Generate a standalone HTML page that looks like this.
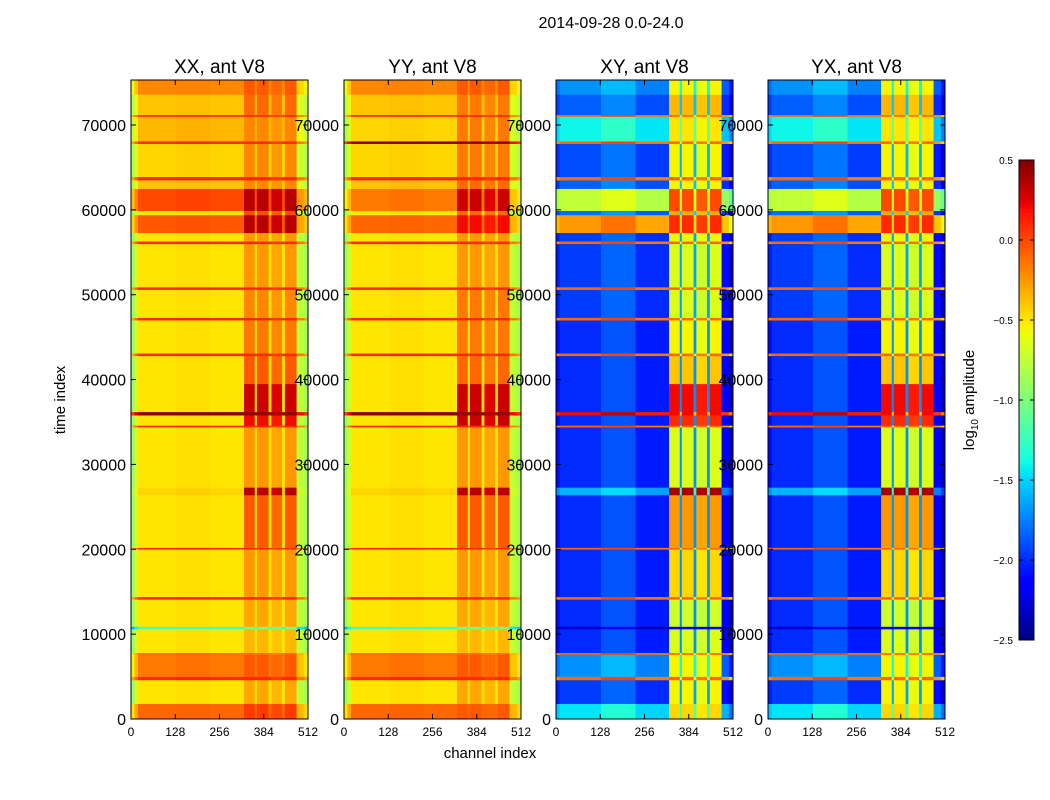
<!DOCTYPE html>
<html><head><meta charset="utf-8"><style>
body{margin:0;background:#fff;}
svg{display:block;font-family:"Liberation Sans",sans-serif;}
</style></head><body>
<svg id="fig" width="1050" height="800" xmlns="http://www.w3.org/2000/svg">
<rect width="1050" height="800" fill="#fff"/>
<text x="611" y="28" font-size="16" text-anchor="middle">2014-09-28 0.0-24.0</text>
<text x="490" y="758" font-size="15" text-anchor="middle">channel index</text>
<text transform="translate(65,400) rotate(-90)" font-size="15" text-anchor="middle">time index</text>
<g id="panels"></g>
<g id="cbar"></g>
<text transform="translate(974,400) rotate(-90)" font-size="15" text-anchor="middle">log<tspan font-size="10" dy="4">10</tspan><tspan dy="-4"> amplitude</tspan></text>
</svg>
<script>
// time segment boundaries (thousands of time index)
const tEdges=[0,1.8,4.6,5.0,7.6,7.8,10.6,10.9,14.1,14.4,20,20.2,26.4,27.3,34.4,34.6,35.8,36.2,39.5,42.8,43.1,47,47.3,50.6,50.9,56,56.3,57.3,59.4,59.9,62.5,63.5,63.9,67.8,68.1,71,71.2,73.6,75.3];
// background (off-band) log amplitude per segment
const xxBg=[-0.1,-0.5,0.1,-0.15,-0.1,-0.5,-1.2,-0.5,0.1,-0.5,0.1,-0.5,-0.45,-0.5,0.1,-0.5,0.45,-0.5,-0.5,0.1,-0.5,0.1,-0.5,0.1,-0.5,0.1,-0.5,-0.05,-0.5,0.0,-0.4,0.1,-0.45,0.1,-0.35,0.1,-0.4,-0.2];
const xxBand=[0.05,-0.3,0.1,-0.05,-0.1,-0.35,-1.0,-0.3,0.1,-0.25,0.1,-0.05,0.35,-0.25,0.1,0.2,0.45,0.3,-0.05,0.1,-0.15,0.1,-0.2,0.1,-0.25,0.1,-0.25,0.35,0.0,0.35,-0.2,0.1,-0.2,0.1,-0.2,0.1,-0.1,-0.05];
const yyBg=[-0.1,-0.5,0.1,-0.15,-0.1,-0.5,-1.2,-0.5,0.1,-0.5,0.1,-0.5,-0.45,-0.5,0.1,-0.5,0.45,-0.5,-0.5,0.1,-0.5,0.1,-0.5,0.1,-0.5,0.1,-0.5,-0.1,-0.5,-0.15,-0.4,0.1,-0.45,0.45,-0.45,0.1,-0.4,-0.2];
const yyBand=[-0.05,-0.3,0.1,-0.05,-0.1,-0.35,-1.0,-0.3,0.1,-0.25,0.1,-0.05,0.35,-0.25,0.1,0.3,0.45,0.3,-0.1,0.1,-0.15,0.1,-0.15,0.1,-0.25,0.1,-0.25,0.2,-0.1,0.3,-0.1,0.1,-0.15,0.45,-0.15,0.1,-0.15,-0.05];
const xyBg=[-1.45,-1.95,-0.1,-1.7,-0.1,-2.0,-2.3,-2.0,-0.1,-2.0,-0.1,-2.0,-1.6,-2.0,-0.1,-2.0,0.2,-2.0,-2.0,-0.1,-2.0,-0.1,-1.95,-0.1,-1.95,-0.1,-1.95,-0.25,-1.8,-0.75,-1.85,-0.1,-1.9,-0.1,-1.4,-0.1,-1.85,-1.7];
const xyBand=[-0.45,-0.55,-0.1,-0.55,-0.1,-0.65,-2.2,-0.7,-0.1,-0.45,-0.1,-0.25,0.4,-0.65,-0.1,0.1,0.2,0.2,-0.4,-0.1,-0.55,-0.1,-0.65,-0.1,-0.65,-0.1,-0.55,0.1,-0.3,0.0,-0.55,-0.1,-0.55,-0.1,-0.5,-0.1,-0.35,-0.55];
const yxBg=xyBg.slice();
const yxBand=xyBand.slice();
// channel column edges and type (0=background,1=band,2=gap)
const chEdges=[0,10,20,130,230,327,358,364,398,406,437,445,479,500,512];
const chType=[0,0,0,0,0,1,2,1,2,1,2,1,0,0];
const xxOff=[-0.4,-0.2,0,0.02,0,0,0,0,0,-0.05,0,0,-0.25,-0.35];
const xyOff=[-0.1,0,0,0.12,-0.05,0,0,0,0,-0.05,0,0,-0.15,-0.35];
const panelNames=["XX, ant V8","YY, ant V8","XY, ant V8","YX, ant V8"];
const yTicks=[0,10000,20000,30000,40000,50000,60000,70000];
const xTicks=[0,128,256,384,512];
const cbTicks=[0.5,0.0,-0.5,-1.0,-1.5,-2.0,-2.5];

const NS="http://www.w3.org/2000/svg";
const px=[131,344,556,768], pw=177, plotTop=80, plotBot=719, tMax=75300;
const vmin=-2.5,vmax=0.5;
const yS=t=>plotBot-(t/tMax)*(plotBot-plotTop);
const JR=[[0,0],[0.35,0],[0.66,1],[0.89,1],[1,0.5]];
const JG=[[0,0],[0.125,0],[0.375,1],[0.64,1],[0.91,0],[1,0]];
const JB=[[0,0.5],[0.11,1],[0.34,1],[0.65,0],[1,0]];
function seg(s,t){for(let i=0;i<s.length-1;i++){if(t<=s[i+1][0]){const f=(t-s[i][0])/(s[i+1][0]-s[i][0]);return s[i][1]+f*(s[i+1][1]-s[i][1]);}}return s[s.length-1][1];}
function jet(v){let t=(v-vmin)/(vmax-vmin);t=Math.max(0,Math.min(1,t));
 const c=x=>Math.round(255*x);
 return `rgb(${c(seg(JR,t))},${c(seg(JG,t))},${c(seg(JB,t))})`;}
function mk(tag,attrs,parent){const e=document.createElementNS(NS,tag);for(const k in attrs)e.setAttribute(k,attrs[k]);parent.appendChild(e);return e;}
const panelsG=document.getElementById('panels');
const data=[[xxBg,xxBand,xxOff],[yyBg,yyBand,xxOff],[xyBg,xyBand,xyOff],[yxBg,yxBand,xyOff]];
data.forEach((d,p)=>{
 const g=mk('g',{},panelsG);
 
 
 const xS=c=>px[p]+c/512*pw;
 const bg=d[0],band=d[1],off=d[2];
 for(let r=0;r<tEdges.length-1;r++){
  const y0=yS(tEdges[r+1]*1000),y1=yS(tEdges[r]*1000);
  for(let c=0;c<chEdges.length-1;c++){
   let v;
   if(chType[c]===1)v=band[r]+off[c];
   else if(chType[c]===2)v=(p<2)?bg[r]:Math.min(band[r]-0.6,bg[r]+0.3);
   else v=bg[r]+off[c];
   const x0=xS(chEdges[c]),x1=xS(chEdges[c+1]);
   const rc=mk('rect',{x:x0.toFixed(2),y:y0.toFixed(2),width:(x1-x0+0.3).toFixed(2),height:(y1-y0+0.3).toFixed(2),fill:jet(v)},g);
   
   
  }
 }
 const fr=mk('rect',{x:px[p],y:plotTop,width:pw,height:plotBot-plotTop,fill:'none',stroke:'#000','stroke-width':1},g);
 
 
 const tt=mk('text',{x:px[p]+pw/2,y:73,'font-size':19,'text-anchor':'middle'},g);
 tt.textContent=panelNames[p];
 
 
 yTicks.forEach(t=>{const y=yS(t);
  mk('line',{x1:px[p],x2:px[p]+5,y1:y,y2:y,stroke:'#000'},g);
  mk('line',{x1:px[p]+pw,x2:px[p]+pw-5,y1:y,y2:y,stroke:'#000'},g);
  const l=mk('text',{x:px[p]-5,y:y+6,'font-size':16,'text-anchor':'end'},g);l.textContent=t;
  
  });
 xTicks.forEach(t=>{const x=xS(t);
  mk('line',{x1:x,x2:x,y1:plotBot,y2:plotBot-5,stroke:'#000'},g);
  mk('line',{x1:x,x2:x,y1:plotTop,y2:plotTop+5,stroke:'#000'},g);
  const l=mk('text',{x:x,y:736,'font-size':12,'text-anchor':'middle'},g);l.textContent=t;
  
  });
});
// colorbar
const cb=document.getElementById('cbar');
const cbX=1019,cbW=15,cbTop=160,cbBot=640;
for(let i=0;i<120;i++){const v=vmin+(i+0.5)/120*(vmax-vmin);
 const y=cbBot-(i+1)/120*(cbBot-cbTop);
 const r=mk('rect',{x:cbX,y:y.toFixed(2),width:cbW,height:((cbBot-cbTop)/120+0.5).toFixed(2),fill:jet(v)},cb);
 
 }
mk('rect',{x:cbX,y:cbTop,width:cbW,height:cbBot-cbTop,fill:'none',stroke:'#000'},cb);
cbTicks.forEach(v=>{const y=cbBot-(v-vmin)/(vmax-vmin)*(cbBot-cbTop);
 mk('line',{x1:cbX,x2:cbX+4,y1:y,y2:y,stroke:'#000'},cb);
 mk('line',{x1:cbX+cbW,x2:cbX+cbW-4,y1:y,y2:y,stroke:'#000'},cb);
 const l=mk('text',{x:1013,y:y+4,'font-size':10,'text-anchor':'end'},cb);
 l.textContent=(v<0?'\u2212':'')+Math.abs(v).toFixed(1);
 
 });
</script>
</body></html>
